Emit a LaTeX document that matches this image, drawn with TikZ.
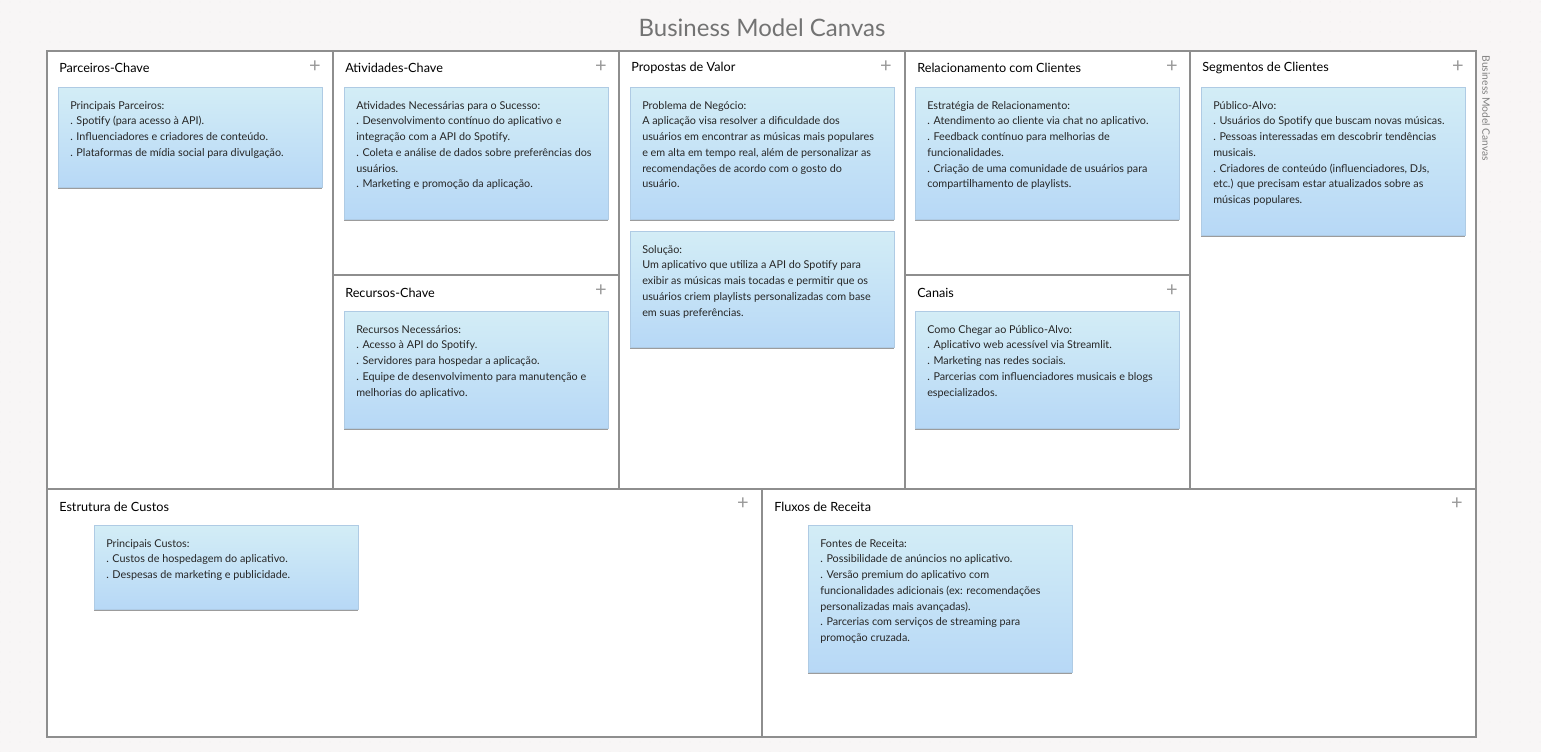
\documentclass[tikz,border=0pt]{standalone}
\usepackage{fontspec}
\setmainfont{Lato}
\usetikzlibrary{shadows,patterns.meta}

\definecolor{notetop}{HTML}{D3EDF6}
\definecolor{notebot}{HTML}{B7D8F6}
\definecolor{frame}{HTML}{8E8E8E}
\definecolor{canvasbg}{HTML}{F8F6F6}
\definecolor{dotgray}{HTML}{E2DEDE}

\begin{document}
\begin{tikzpicture}[x=0.75pt,y=-0.75pt,
  block/.style={draw=frame,fill=white,line width=0.9pt},
  head node/.style={anchor=west,inner sep=0pt,font=\fontsize{9.5}{11}\selectfont},
  plus node/.style={inner sep=0pt,text=gray!80,font=\fontsize{15}{15}\selectfont},
  note/.style={anchor=north west,inner sep=0pt,minimum width=198pt,
    top color=notetop,bottom color=notebot,draw=notebot!85!gray,line width=0.3pt,
    drop shadow={shadow xshift=0pt,shadow yshift=-1.3pt,opacity=0.55,fill=black!70}},
  note text/.style={anchor=north west,align=left,inner sep=0pt,text=black!85,
    font=\fontsize{8.1}{11.8}\selectfont}]

  % background
  \fill[canvasbg] (0,0) rectangle (1541,752);
  \fill[pattern={Dots[distance=7.5pt,radius=0.35pt]},pattern color=dotgray] (0,0) rectangle (1541,752);
  \useasboundingbox (0,0) rectangle (1541,752);

  \node[text=black!55,font=\fontsize{18}{20}\selectfont] (title) at (762,28) {Business Model Canvas};
  \node[rotate=-90,anchor=west,text=black!50,font=\fontsize{7.7}{9}\selectfont] (side) at (1486,51) {Business Model Canvas};

  % blocks
  \draw[block] (47,51) rectangle (333,489);
  \draw[block] (333,51) rectangle (619,275);
  \draw[block] (333,275) rectangle (619,489);
  \draw[block] (619,51) rectangle (905,489);
  \draw[block] (905,51) rectangle (1190,275);
  \draw[block] (905,275) rectangle (1190,489);
  \draw[block] (1190,51) rectangle (1476,489);
  \draw[block] (47,489) rectangle (762,737);
  \draw[block] (762,489) rectangle (1476,737);

  % headers
  \node[head node] (pk) at (59,68) {Parceiros-Chave};
  \node[head node] (ak) at (345,68) {Atividades-Chave};
  \node[head node] (pv) at (631,68) {Propostas de Valor};
  \node[head node] (rc) at (917,68) {Relacionamento com Clientes};
  \node[head node] (sc) at (1202,68) {Segmentos de Clientes};
  \node[head node] (rk) at (345,293) {Recursos-Chave};
  \node[head node] (cn) at (917,293) {Canais};
  \node[head node] (ec) at (59,507) {Estrutura de Custos};
  \node[head node] (fr) at (774,507) {Fluxos de Receita};

  \node[plus node] (pk+) at (315,67) {+};
  \node[plus node] (ak+) at (601,67) {+};
  \node[plus node] (pv+) at (886,67) {+};
  \node[plus node] (rc+) at (1172,67) {+};
  \node[plus node] (sc+) at (1458,67) {+};
  \node[plus node] (rk+) at (601,291) {+};
  \node[plus node] (cn+) at (1172,291) {+};
  \node[plus node] (ec+) at (743,504) {+};
  \node[plus node] (fr+) at (1457,504) {+};

  % notes
  \node[note,minimum height=75pt] (npk) at (58,87) {};
  \node[note,minimum height=99pt] (nak) at (344,87) {};
  \node[note,minimum height=99pt] (npv) at (630,87) {};
  \node[note,minimum height=87pt] (nsol) at (630,231) {};
  \node[note,minimum height=99pt] (nrc) at (915,87) {};
  \node[note,minimum height=111pt] (nsc) at (1201,87) {};
  \node[note,minimum height=87.75pt] (nrk) at (344,311) {};
  \node[note,minimum height=87.75pt] (ncn) at (915,311) {};
  \node[note,minimum height=63pt] (nec) at (94,525) {};
  \node[note,minimum height=110.25pt] (nfr) at (808,525) {};

  \node[note text] (tpk) at ([shift={(12,14)}]npk.north west)
    {Principais Parceiros:\\. Spotify (para acesso à API).\\. Influenciadores e criadores de conteúdo.\\. Plataformas de mídia social para divulgação.};
  \node[note text] (tak) at ([shift={(12,14)}]nak.north west)
    {Atividades Necessárias para o Sucesso:\\. Desenvolvimento contínuo do aplicativo e\\integração com a API do Spotify.\\. Coleta e análise de dados sobre preferências dos\\usuários.\\. Marketing e promoção da aplicação.};
  \node[note text] (tpv) at ([shift={(12,14)}]npv.north west)
    {Problema de Negócio:\\A aplicação visa resolver a dificuldade dos\\usuários em encontrar as músicas mais populares\\e em alta em tempo real, além de personalizar as\\recomendações de acordo com o gosto do\\usuário.};
  \node[note text] (tsol) at ([shift={(12,14)}]nsol.north west)
    {Solução:\\Um aplicativo que utiliza a API do Spotify para\\exibir as músicas mais tocadas e permitir que os\\usuários criem playlists personalizadas com base\\em suas preferências.};
  \node[note text] (trc) at ([shift={(12,14)}]nrc.north west)
    {Estratégia de Relacionamento:\\. Atendimento ao cliente via chat no aplicativo.\\. Feedback contínuo para melhorias de\\funcionalidades.\\. Criação de uma comunidade de usuários para\\compartilhamento de playlists.};
  \node[note text] (tsc) at ([shift={(12,14)}]nsc.north west)
    {Público-Alvo:\\. Usuários do Spotify que buscam novas músicas.\\. Pessoas interessadas em descobrir tendências\\musicais.\\. Criadores de conteúdo (influenciadores, DJs,\\etc.) que precisam estar atualizados sobre as\\músicas populares.};
  \node[note text] (trk) at ([shift={(12,14)}]nrk.north west)
    {Recursos Necessários:\\. Acesso à API do Spotify.\\. Servidores para hospedar a aplicação.\\. Equipe de desenvolvimento para manutenção e\\melhorias do aplicativo.};
  \node[note text] (tcn) at ([shift={(12,14)}]ncn.north west)
    {Como Chegar ao Público-Alvo:\\. Aplicativo web acessível via Streamlit.\\. Marketing nas redes sociais.\\. Parcerias com influenciadores musicais e blogs\\especializados.};
  \node[note text] (tec) at ([shift={(12,14)}]nec.north west)
    {Principais Custos:\\. Custos de hospedagem do aplicativo.\\. Despesas de marketing e publicidade.};
  \node[note text] (tfr) at ([shift={(12,14)}]nfr.north west)
    {Fontes de Receita:\\. Possibilidade de anúncios no aplicativo.\\. Versão premium do aplicativo com\\funcionalidades adicionais (ex: recomendações\\personalizadas mais avançadas).\\. Parcerias com serviços de streaming para\\promoção cruzada.};
\end{tikzpicture}
\end{document}
